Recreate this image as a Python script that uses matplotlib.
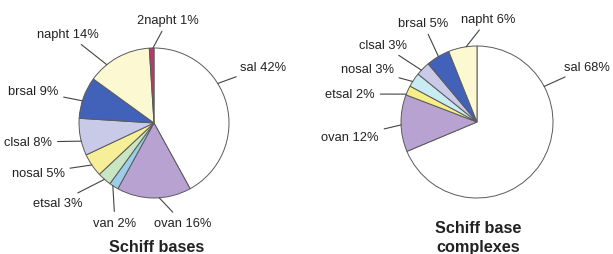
import numpy as np
import matplotlib.pyplot as plt

plt.rcParams['font.family'] = ['Liberation Sans', 'DejaVu Sans']

# left pie: Schiff bases
left_labels = ["sal", "ovan", "van", "etsal", "nosal", "clsal", "brsal", "napht", "2napht"]
left_values = [42, 16, 2, 3, 5, 8, 9, 14, 1]
left_colors = ["#ffffff", "#b8a2d2", "#9ccde9", "#c9e6c2", "#f6ef98", "#c9c9e8", "#4262ba", "#fcf9d2", "#b83a6a"]

# right pie: Schiff base complexes
right_labels = ["sal", "ovan", "etsal", "nosal", "clsal", "brsal", "napht"]
right_values = [68, 12, 2, 3, 3, 5, 6]
right_colors = ["#ffffff", "#b8a2d2", "#f6ef88", "#c9ecf4", "#c9c9e8", "#4262ba", "#fcf9d2"]

# layout (pixel coords, y downwards): label centers and leader attach angles
left_center, left_r = (154, 124), 75
left_text_pos = [(263, 68), (183, 224), (115, 224), (58, 204), (38, 174),
                 (28, 143), (33, 92), (68, 35), (168, 21)]
left_attach = [31.8, -86, -123.3, -131.3, -146, -166, 162.8, 129, 90.8]

right_center, right_r = (477, 123), 76
right_text_pos = [(587, 68), (350, 138), (350, 95), (367, 70), (383, 46), (423, 24), (488, 20)]
right_attach = [27.9, 182.2, 158.5, 147.8, 137, 120.5, 98.2]

W, H = 613, 255
fig = plt.figure(figsize=(W / 100, H / 100), dpi=100)
ax = fig.add_axes([0, 0, 1, 1])


def draw_pie(values, colors, labels, center, r, text_pos, attach):
    cx, cy = center[0], H - center[1]
    ax.pie(values, colors=colors, startangle=90, counterclock=False,
           center=(cx, cy), radius=r,
           wedgeprops=dict(edgecolor="#5a5a5a", linewidth=0.7))
    for lab, v, (tx, ty), ang in zip(labels, values, text_pos, attach):
        a = np.deg2rad(ang)
        ex, ey = cx + r * np.cos(a), cy + r * np.sin(a)
        ax.annotate(f"{lab} {v}%", xy=(ex, ey), xytext=(tx, H - ty),
                    ha="center", va="center", fontsize=9.3, color="#222222",
                    arrowprops=dict(arrowstyle="-", color="#444444", lw=0.8,
                                    shrinkA=2, shrinkB=0))


draw_pie(left_values, left_colors, left_labels, left_center, left_r, left_text_pos, left_attach)
draw_pie(right_values, right_colors, right_labels, right_center, right_r, right_text_pos, right_attach)

ax.text(157, H - 248, "Schiff bases", ha="center", va="center",
        fontsize=11.7, fontweight="bold", color="#222222")
ax.text(478, H - 238, "Schiff base\ncomplexes", ha="center", va="center",
        fontsize=11.7, fontweight="bold", color="#222222", linespacing=1.35)

ax.set_xlim(0, W)
ax.set_ylim(0, H)
ax.set_aspect("equal")
ax.axis("off")

fig.savefig("out.png", dpi=100)
